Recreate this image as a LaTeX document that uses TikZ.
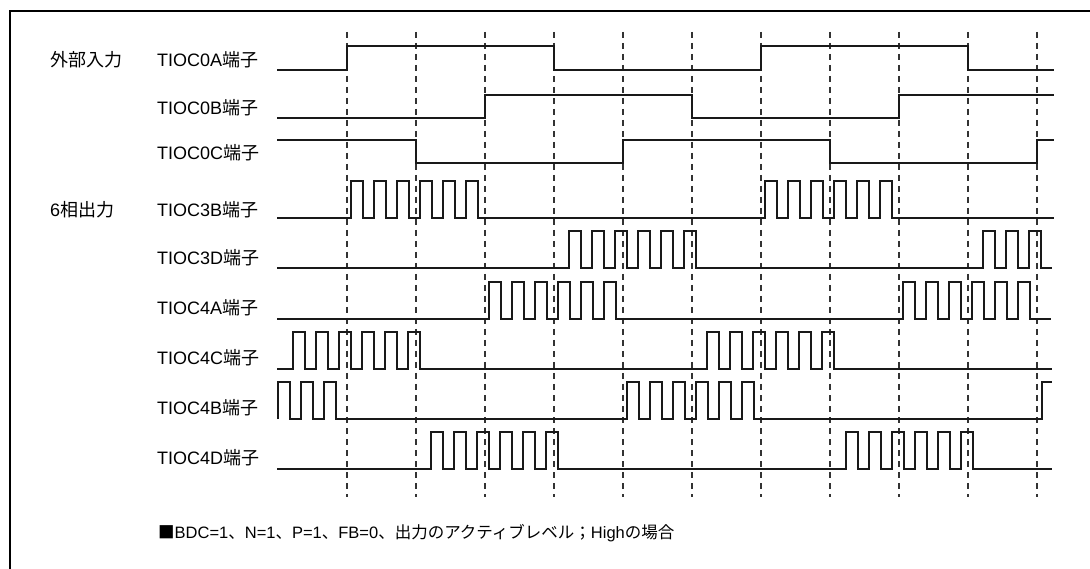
\documentclass[tikz,border=0pt]{standalone}
\usepackage{fontspec}
\setmainfont{Liberation Sans}
\newfontfamily\jp{Noto Sans CJK JP}
\newcommand\burst[3]{%
  \foreach \k in {1,...,#2}{
    -- ({#1+23*(\k-1)},#3) -- ++(0,-37) -- ++(12,0) -- ++(0,37)}}
\begin{document}
\begin{tikzpicture}[x=1pt,y=-1pt,
  sig/.style={line width=2.5pt,color=black!90,line join=miter},
  dsh/.style={line width=1.3pt,color=black!80,dash pattern=on 6pt off 5pt},
  lbl/.style={anchor=west,inner sep=0pt,font=\fontsize{18}{21}\selectfont},
  captxt/.style={anchor=west,inner sep=0pt,font=\fontsize{16.5}{19}\selectfont}]
\useasboundingbox (0,0) rectangle (1090,569);
\fill[white] (0,0) rectangle (1090,569);
% frame
\draw[line width=2.5pt] (10,569) -- (10,11) -- (1090,11);
% dashed grid
\foreach \i in {0,...,10}
  \draw[dsh] ({347+69*\i},32) -- ({347+69*\i},497);
% labels
\node[lbl] (grpin) at (50,60) {\jp 外部入力};
\node[lbl] (grpout) at (50,210) {6{\jp 相出力}};
\node[lbl] (l0a) at (157,60) {TIOC0A{\jp 端子}};
\node[lbl] (l0b) at (157,108) {TIOC0B{\jp 端子}};
\node[lbl] (l0c) at (157,153) {TIOC0C{\jp 端子}};
\node[lbl] (l3b) at (157,210) {TIOC3B{\jp 端子}};
\node[lbl] (l3d) at (157,258) {TIOC3D{\jp 端子}};
\node[lbl] (l4a) at (157,308) {TIOC4A{\jp 端子}};
\node[lbl] (l4c) at (157,358) {TIOC4C{\jp 端子}};
\node[lbl] (l4b) at (157,408) {TIOC4B{\jp 端子}};
\node[lbl] (l4d) at (157,458) {TIOC4D{\jp 端子}};
% input waveforms
\draw[sig] (277,70) -| (347,46) -| (554,70) -| (761,46) -| (968,70) -- (1054,70);
\draw[sig] (277,118) -| (485,95) -| (692,118) -| (899,95) -- (1054,95);
\draw[sig] (277,140) -| (416,163) -| (623,140) -| (830,163) -| (1037,140) -- (1054,140);
% output waveforms
\draw[sig] (277,218) \burst{351}{6}{218} \burst{765}{6}{218} -- (1054,218);
\draw[sig] (277,268) \burst{569}{6}{268} \burst{983}{3}{268} -- (1052,268);
\draw[sig] (277,319) \burst{489}{6}{319} \burst{903}{6}{319} -- (1051,319);
\draw[sig] (277,369) \burst{293}{6}{369} \burst{707}{6}{369} -- (1052,369);
\draw[sig] (278,419) \burst{278}{3}{419} \burst{627}{6}{419} -- (1042,419) -- ++(0,-37) -- (1052,382);
\draw[sig] (277,469) \burst{431}{6}{469} \burst{846}{6}{469} -- (1052,469);
% caption
\node[captxt] (note) at (158,533) {{\jp ■}BDC=1{\jp 、}N=1{\jp 、}P=1{\jp 、}FB=0{\jp 、出力のアクティブレベル；}High{\jp の場合}};
\end{tikzpicture}
\end{document}
